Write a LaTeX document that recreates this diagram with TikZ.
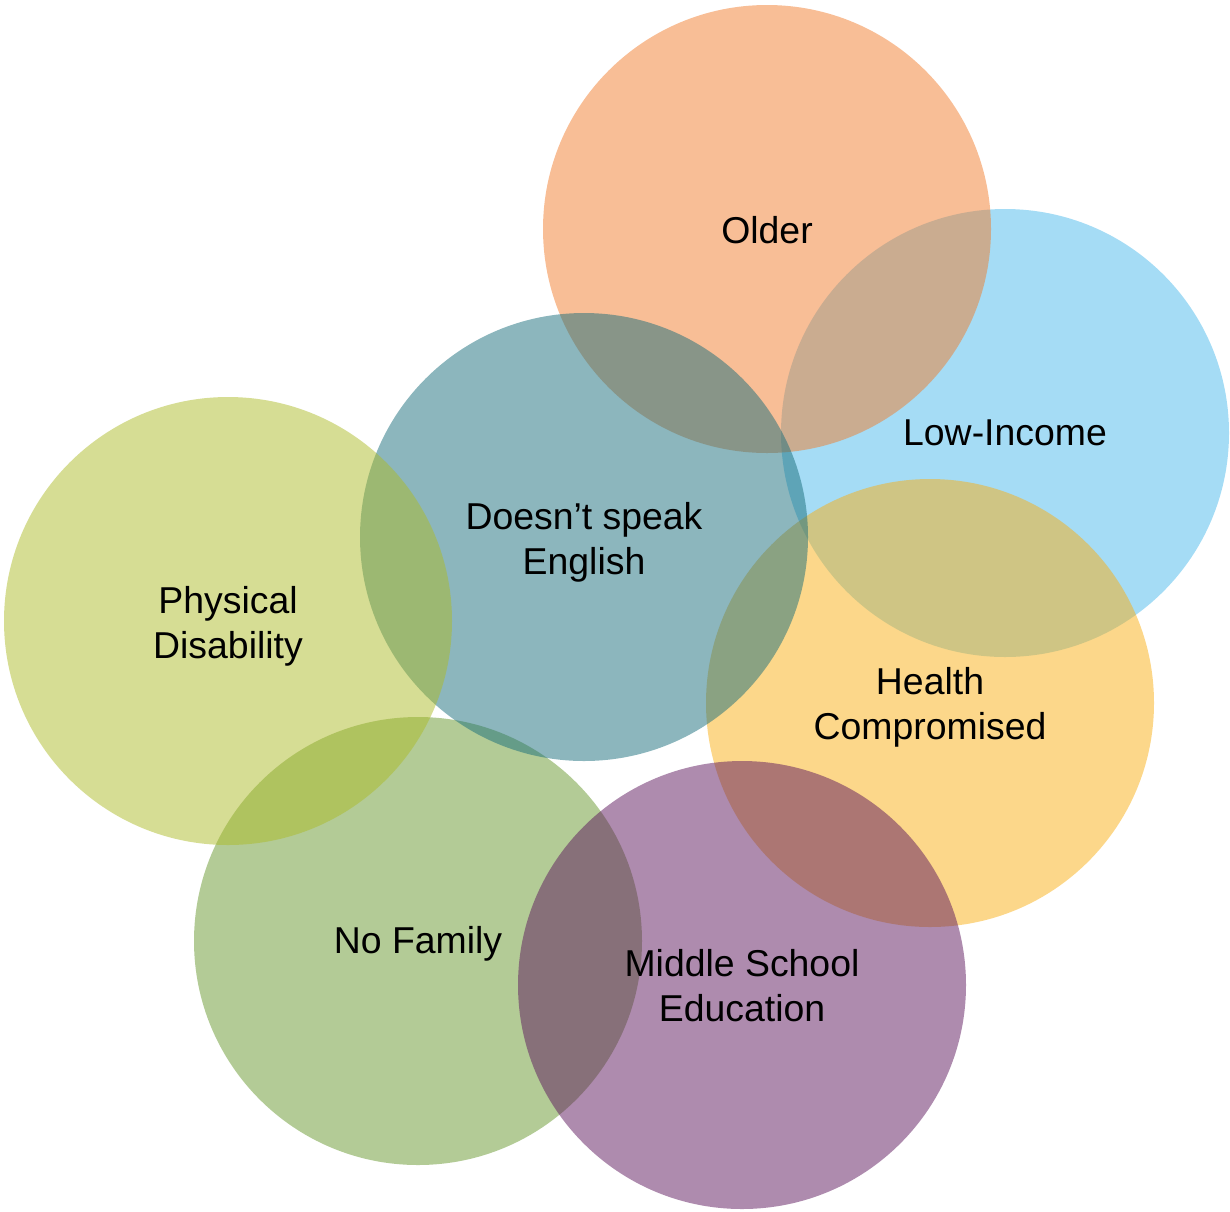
\documentclass[tikz,border=0pt]{standalone}
\usepackage{fontspec}
\setmainfont{Liberation Sans}
\definecolor{cOlder}{RGB}{241,125,45}
\definecolor{cLow}{RGB}{75,185,235}
\definecolor{cEng}{RGB}{25,109,123}
\definecolor{cPhys}{RGB}{173,187,41}
\definecolor{cHealth}{RGB}{249,175,21}
\definecolor{cFam}{RGB}{103,151,45}
\definecolor{cMid}{RGB}{93,23,93}
\tikzset{
  bubble/.style={circle, inner sep=0pt, minimum size=224pt, draw=none, fill opacity=0.5},
  lbl/.style={align=center, font=\fontsize{18.7}{22.5}\selectfont, text=black}
}
\begin{document}
\begin{tikzpicture}[x=0.5pt, y=-0.5pt]
\useasboundingbox (0,0) rectangle (1230,1211);
\node[bubble, fill=cLow]    (low)    at (1005,433) {};
\node[bubble, fill=cOlder]  (older)  at (767,229) {};
\node[bubble, fill=cHealth] (health) at (930,703) {};
\node[bubble, fill=cFam]    (fam)    at (418,941) {};
\node[bubble, fill=cMid]    (mid)    at (742,985) {};
\node[bubble, fill=cEng]    (eng)    at (584,537) {};
\node[bubble, fill=cPhys]   (phys)   at (228,621) {};
\node[lbl] (tOlder)  at (767,230) {Older};
\node[lbl] (tLow)    at (low)    {Low-Income};
\node[lbl] (tEng)    at (584,542) {Doesn’t speak\\English};
\node[lbl] (tPhys)   at (228,626) {Physical\\Disability};
\node[lbl] (tHealth) at (930,707) {Health\\Compromised};
\node[lbl] (tFam)    at (418,944) {No Family};
\node[lbl] (tMid)    at (742,986) {Middle School\\Education};
\end{tikzpicture}
\end{document}
